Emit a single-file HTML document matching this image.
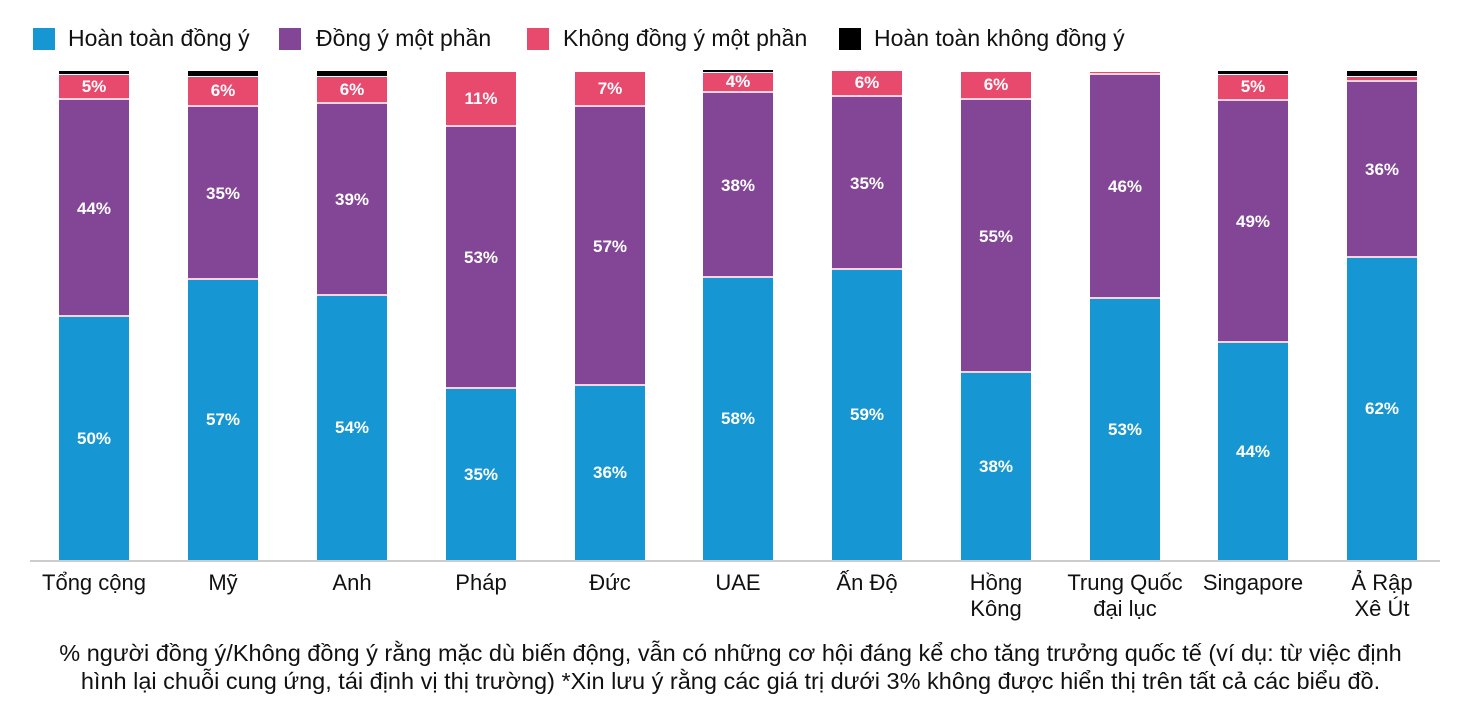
<!DOCTYPE html><html><head><meta charset="utf-8"><style>
body{margin:0;width:1461px;height:720px;background:#fff;position:relative;font-family:"Liberation Sans",sans-serif;overflow:hidden}
.a{position:absolute}
.sq{position:absolute;width:22px;height:22px;top:28px}
.lg{position:absolute;top:25px;font-size:23px;color:#111}
.s{position:absolute;border-bottom:2px solid #f7d3e0;box-sizing:border-box}
.v{position:absolute;color:#fff;font-weight:bold;font-size:17px;width:70px;text-align:center}
.x{position:absolute;top:570px;font-size:22px;color:#111;width:160px;text-align:center;line-height:26px}
.c{position:absolute;width:1461px;text-align:center;font-size:23.5px;color:#111;left:0;white-space:nowrap}
</style></head><body>
<div class="sq" style="left:33px;background:#1696d2"></div><div class="lg" style="left:68px">Hoàn toàn đồng ý</div>
<div class="sq" style="left:279px;background:#834595"></div><div class="lg" style="left:316px">Đồng ý một phần</div>
<div class="sq" style="left:527px;background:#e84a6e"></div><div class="lg" style="left:563px">Không đồng ý một phần</div>
<div class="sq" style="left:839px;background:#000"></div><div class="lg" style="left:874px">Hoàn toàn không đồng ý</div>
<div class="a" style="left:30px;top:560px;width:1410px;height:2px;background:#ccc"></div>
<div id="bars"></div>
<div class="c" style="top:640px">% người đồng ý/Không đồng ý rằng mặc dù biến động, vẫn có những cơ hội đáng kể cho tăng trưởng quốc tế (ví dụ: từ việc định</div>
<div class="c" style="top:668px">hình lại chuỗi cung ứng, tái định vị thị trường) *Xin lưu ý rằng các giá trị dưới 3% không được hiển thị trên tất cả các biểu đồ.</div>
<script>
var d=[[59,317,100,75,71,"50%","44%","5%","Tổng cộng"],[188,280,107,77,71,"57%","35%","6%","Mỹ"],[317,296,104,77,71,"54%","39%","6%","Anh"],[446,389,127,72,0,"35%","53%","11%","Pháp"],[575,386,107,72,0,"36%","57%","7%","Đức"],[703,278,93,73,70,"58%","38%","4%","UAE"],[832,270,97,71,0,"59%","35%","6%","Ấn Độ"],[961,373,100,72,0,"38%","55%","6%","Hồng<br>Kông"],[1090,299,75,72,0,"53%","46%","","Trung Quốc<br>đại lục"],[1218,343,101,75,71,"44%","49%","5%","Singapore"],[1347,258,82,77,71,"62%","36%","","Ả Rập<br>Xê Út"]];
var h="";d.forEach(function(b){var x=b[0];
if(b[4])h+='<div class="a" style="left:'+x+'px;top:'+b[4]+'px;width:70px;height:'+(b[3]-b[4]-1)+'px;background:#000"></div>';
h+='<div class="s" style="left:'+x+'px;top:'+b[3]+'px;width:70px;height:'+(b[2]-b[3])+'px;background:#e84a6e"></div>';
h+='<div class="s" style="left:'+x+'px;top:'+b[2]+'px;width:70px;height:'+(b[1]-b[2])+'px;background:#834595"></div>';
h+='<div class="a" style="left:'+x+'px;top:'+b[1]+'px;width:70px;height:'+(560-b[1])+'px;background:#1696d2"></div>';
h+='<div class="v" style="left:'+x+'px;top:'+((b[1]+560)/2-10)+'px">'+b[5]+'</div>';
h+='<div class="v" style="left:'+x+'px;top:'+((b[1]+b[2])/2-10)+'px">'+b[6]+'</div>';
if(b[7])h+='<div class="v" style="left:'+x+'px;top:'+((b[2]+b[3])/2-11)+'px">'+b[7]+'</div>';
h+='<div class="x" style="left:'+(x-45)+'px">'+b[8]+'</div>';});
document.getElementById("bars").innerHTML=h;
</script></body></html>
